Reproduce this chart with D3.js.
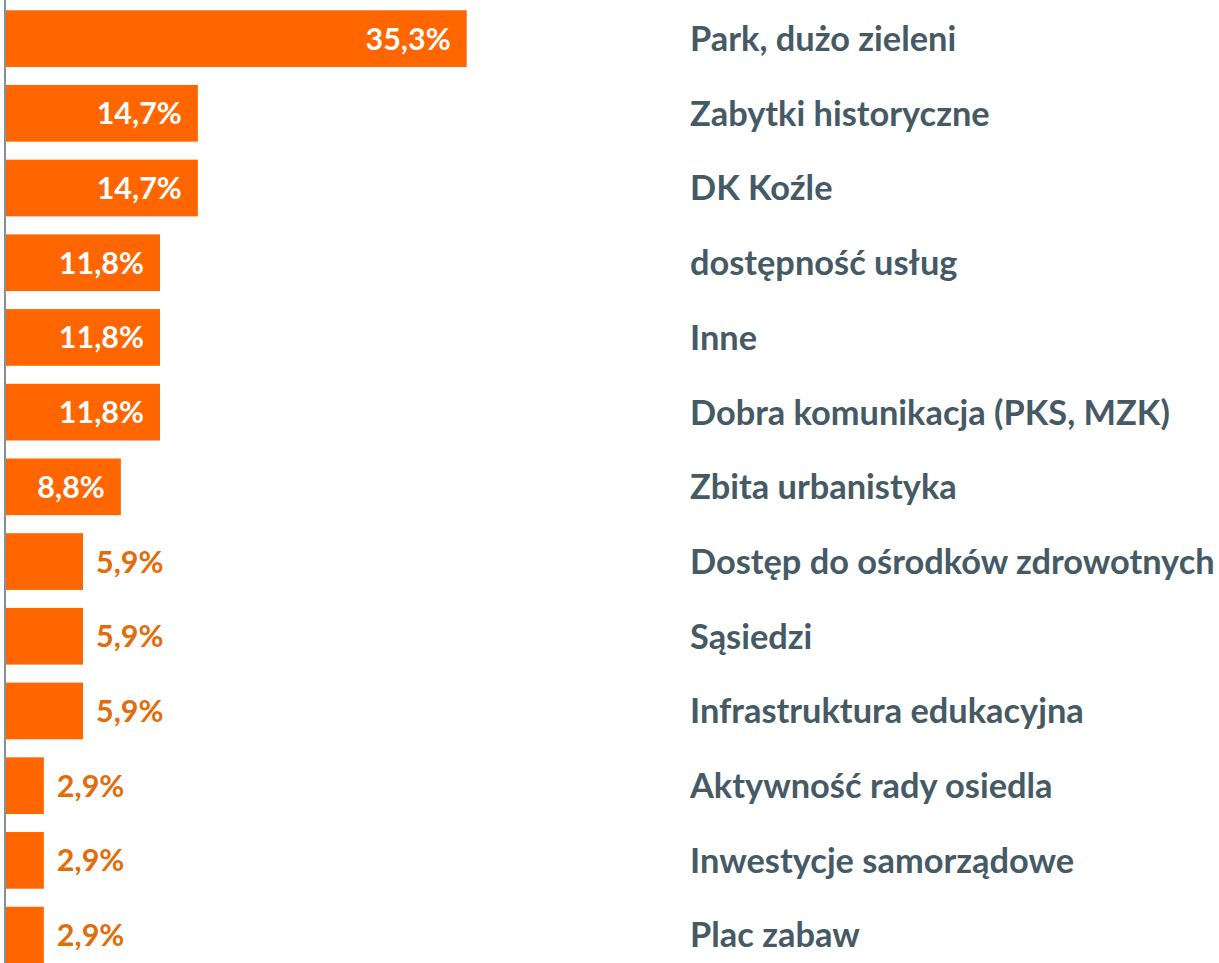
<!DOCTYPE html>
<html>
<head>
<meta charset="utf-8">
<script src="https://cdn.jsdelivr.net/npm/d3@7"></script>
<style>
  html, body { margin: 0; padding: 0; background: #fff; }
  svg { display: block; }
</style>
</head>
<body>
<svg id="chart" width="1219" height="963"></svg>
<script>
const categories = [
  "Park, dużo zieleni",
  "Zabytki historyczne",
  "DK Koźle",
  "dostępność usług",
  "Inne",
  "Dobra komunikacja (PKS, MZK)",
  "Zbita urbanistyka",
  "Dostęp do ośrodków zdrowotnych",
  "Sąsiedzi",
  "Infrastruktura edukacyjna",
  "Aktywność rady osiedla",
  "Inwestycje samorządowe",
  "Plac zabaw"
];
const values = [35.3, 14.7, 14.7, 11.8, 11.8, 11.8, 8.8, 5.9, 5.9, 5.9, 2.9, 2.9, 2.9];
const valueLabels = ["35,3%", "14,7%", "14,7%", "11,8%", "11,8%", "11,8%", "8,8%", "5,9%", "5,9%", "5,9%", "2,9%", "2,9%", "2,9%"];

const data = categories.map((c, i) => ({ cat: c, val: values[i], lab: valueLabels[i] }));

const svg = d3.select("#chart");
const fontFamily = "'Lato', 'Open Sans', sans-serif";

const x = d3.scaleLinear().domain([0, 35.3]).range([6, 466.7]);
const y = d3.scaleBand().domain(categories).range([1.3, 972.4]).paddingInner(0.241).paddingOuter(0.12);

svg.selectAll("rect.bar").data(data).enter().append("rect")
  .attr("class", "bar")
  .attr("x", x(0))
  .attr("y", d => y(d.cat))
  .attr("width", d => x(d.val) - x(0))
  .attr("height", y.bandwidth())
  .attr("fill", "#FF6600");

// axis line
svg.append("line")
  .attr("x1", 5).attr("x2", 5)
  .attr("y1", 0).attr("y2", 963)
  .attr("stroke", "#5E6B75").attr("stroke-width", 1.5);

const inside = d => d.val > 8;

svg.selectAll("text.val").data(data).enter().append("text")
  .attr("class", "val")
  .attr("x", d => inside(d) ? x(d.val) - 16 : x(d.val) + 13)
  .attr("y", d => y(d.cat) + y.bandwidth() / 2)
  .attr("dy", "0.36em")
  .attr("text-anchor", d => inside(d) ? "end" : "start")
  .attr("fill", d => inside(d) ? "#FFFFFF" : "#E36C0A")
  .attr("font-family", fontFamily)
  .attr("font-weight", "bold")
  .attr("font-size", 30.5)
  .text(d => d.lab);

const catText = svg.selectAll("text.cat").data(data).enter().append("text")
  .attr("class", "cat")
  .attr("x", 690)
  .attr("y", d => y(d.cat) + y.bandwidth() / 2)
  .attr("dy", "0.36em")
  .attr("text-anchor", "start")
  .attr("fill", "#465A66")
  .attr("font-family", fontFamily)
  .attr("font-weight", "bold")
  .attr("font-size", 28)
  .text(d => d.cat);

// fit the widest category label to the reference width
let maxW = 0;
catText.each(function() { maxW = Math.max(maxW, this.getComputedTextLength()); });
const fs = 28 * 525 / maxW;
catText.attr("font-size", fs);
</script>
</body>
</html>
